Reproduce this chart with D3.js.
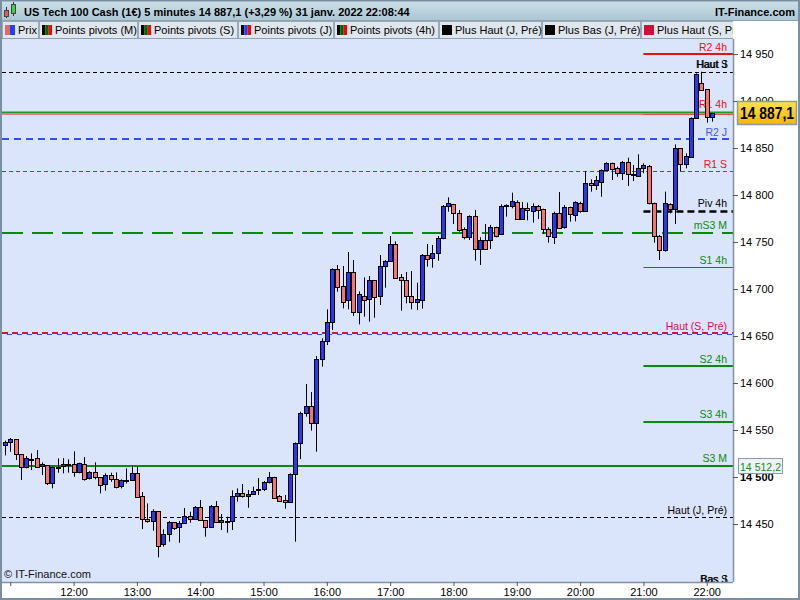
<!DOCTYPE html>
<html><head><meta charset="utf-8">
<script src="https://cdn.jsdelivr.net/npm/d3@7"></script>
<style>body{margin:0;background:#fff}svg{display:block;font-family:"Liberation Sans",Arial,sans-serif}</style>
</head><body><svg id="c" width="800" height="600"></svg>
<script>
// ---------- DATA ----------
const startTime = "10:55";
const candleMinutes = 5;
const open = [
14533.7,14537.2,14540.4,14524.1,14511.0,14519.1,14519.8,14512.0,14512.4,14493.2,
14510.2,14512.0,14513.4,14514.1,14504.9,14513.4,14498.5,14505.3,14499.6,14492.2,
14502.1,14498.2,14490.0,14495.7,14496.4,14504.2,14479.4,14454.9,14452.8,14463.4,
14428.3,14439.0,14451.7,14446.4,14450.7,14458.1,14454.9,14467.7,14453.9,14447.1,
14468.8,14452.4,14453.2,14452.8,14479.8,14482.9,14479.4,14481.9,14485.8,14486.8,
14494.6,14499.6,14480.1,14475.1,14473.4,14502.8,14535.8,14567.7,14575.5,14557.8,
14625.2,14644.3,14664.5,14720.9,14703.2,14687.9,14717.7,14675.2,14692.9,14689.0,
14709.2,14692.2,14724.5,14729.4,14747.9,14712.8,14709.2,14692.2,14686.2,14688.7,
14735.8,14732.6,14737.9,14753.9,14788.3,14790.5,14780.5,14763.5,14755.0,14777.3,
14742.9,14752.1,14752.1,14765.6,14758.2,14788.0,14788.3,14792.9,14774.9,14785.8,
14782.7,14788.0,14784.8,14764.2,14755.7,14780.9,14765.6,14786.9,14779.1,14791.9,
14783.4,14812.4,14810.3,14814.2,14826.3,14833.7,14828.4,14823.4,14834.8,14822.0,
14820.6,14828.4,14830.9,14791.2,14756.4,14741.2,14790.5,14785.5,14849.7,14832.6,
14840.8,14881.6,14919.5,14912.4,14882.6];
const high = [
14538.6,14541.5,14540.4,14524.1,14522.3,14525.1,14528.7,14515.6,14512.4,14511.0,
14519.8,14520.2,14518.8,14527.3,14515.2,14521.2,14506.3,14515.6,14499.6,14503.9,
14504.6,14504.9,14497.5,14509.2,14512.7,14511.0,14484.0,14471.9,14465.6,14463.4,
14444.3,14453.2,14451.7,14453.2,14467.0,14463.1,14469.1,14475.5,14454.2,14470.2,
14474.4,14460.6,14457.8,14485.8,14487.9,14492.5,14486.1,14489.7,14498.9,14495.7,
14505.3,14500.3,14480.8,14480.8,14503.9,14536.8,14569.5,14598.9,14590.4,14628.7,
14647.5,14678.4,14722.0,14725.5,14724.5,14739.4,14730.8,14697.5,14712.4,14713.8,
14709.6,14736.2,14730.8,14756.4,14750.7,14715.9,14718.1,14719.1,14706.7,14737.2,
14747.9,14746.8,14756.4,14789.4,14797.6,14790.5,14784.1,14765.6,14778.4,14784.1,
14755.0,14769.2,14768.1,14766.3,14790.1,14790.1,14802.5,14794.4,14792.6,14791.9,
14791.2,14789.4,14785.5,14765.6,14782.3,14803.2,14789.4,14787.6,14793.3,14792.9,
14825.6,14816.7,14820.2,14827.3,14834.8,14834.4,14830.2,14836.2,14839.7,14831.9,
14843.3,14833.7,14831.9,14791.9,14757.5,14803.6,14791.2,14853.9,14849.7,14844.3,
14882.6,14929.4,14931.2,14912.4,14887.1];
const low = [
14523.0,14526.9,14518.0,14496.8,14509.2,14507.4,14511.0,14502.1,14491.5,14487.9,
14504.6,14503.9,14504.6,14500.3,14503.9,14496.1,14497.5,14497.5,14482.6,14485.4,
14495.0,14487.9,14487.9,14493.2,14495.7,14478.3,14444.6,14451.4,14442.9,14414.5,
14425.9,14431.2,14443.6,14430.1,14450.0,14451.4,14454.2,14453.2,14436.5,14447.1,
14451.4,14443.6,14440.7,14443.6,14473.7,14478.0,14467.3,14480.8,14480.8,14485.1,
14493.2,14476.9,14473.7,14466.3,14472.3,14431.2,14519.1,14564.2,14549.3,14526.9,
14617.4,14640.4,14656.4,14697.2,14679.4,14678.4,14671.3,14662.4,14670.6,14665.3,
14669.5,14683.0,14701.4,14729.1,14711.0,14676.9,14684.7,14678.4,14677.7,14679.1,
14723.8,14722.7,14730.1,14752.9,14782.3,14769.2,14761.0,14752.9,14752.2,14730.2,
14725.6,14742.2,14742.6,14755.0,14757.5,14777.0,14785.8,14773.4,14773.4,14773.1,
14770.6,14774.5,14758.5,14749.3,14747.9,14764.2,14764.2,14771.7,14772.0,14781.2,
14782.7,14803.6,14805.3,14798.3,14825.9,14816.0,14819.5,14816.0,14809.6,14814.9,
14819.5,14823.1,14790.1,14749.3,14730.9,14739.8,14780.5,14769.2,14824.8,14828.4,
14839.7,14881.6,14911.7,14877.0,14878.1];
const close = [
14537.2,14540.4,14524.1,14511.0,14519.8,14518.0,14511.0,14513.4,14493.2,14510.6,
14511.0,14514.1,14513.2,14504.9,14514.9,14498.2,14505.6,14499.6,14491.8,14502.4,
14498.2,14489.7,14496.8,14496.8,14504.6,14479.0,14454.9,14452.8,14464.1,14426.9,
14439.0,14451.7,14446.1,14451.4,14458.5,14454.9,14468.0,14453.9,14447.1,14468.8,
14452.4,14453.9,14453.5,14479.4,14482.9,14479.4,14481.9,14485.4,14487.2,14494.6,
14500.0,14478.0,14474.8,14473.4,14503.2,14536.1,14568.4,14575.5,14557.8,14625.2,
14644.7,14664.9,14721.3,14702.5,14685.8,14717.7,14675.9,14694.3,14688.3,14709.6,
14691.8,14724.5,14729.8,14747.9,14712.1,14709.2,14692.2,14685.8,14689.4,14736.5,
14732.3,14738.3,14754.3,14788.3,14791.2,14780.5,14762.8,14755.0,14777.7,14742.9,
14751.8,14742.9,14766.0,14756.1,14788.3,14789.0,14793.3,14774.9,14786.2,14783.7,
14788.3,14784.4,14764.2,14756.4,14780.5,14765.3,14787.3,14779.5,14792.2,14783.4,
14812.8,14810.3,14816.0,14826.3,14834.1,14827.3,14823.8,14835.1,14822.0,14820.9,
14828.4,14831.9,14791.2,14756.1,14741.2,14791.9,14785.5,14850.4,14833.0,14841.5,
14882.3,14928.4,14911.7,14882.6,14887.1];

const hourLabels = ["11:00","12:00","13:00","14:00","15:00","16:00","17:00","18:00","19:00","20:00","21:00","22:00"];
const priceTicks = [14450,14500,14550,14600,14650,14700,14750,14800,14850,14900,14950];
const levelNames  = ["R2 4h","Haut J","Haut S","R1 4h","R2 J","R1 S","Piv 4h","mS3 M","S1 4h","Haut (S, Pré)","S2 4h","S3 4h","S3 M","Haut (J, Pré)","Bas J","Bas S"];
const levelValues = [14950.0,14931.2,14931.2,14886.4,14859.6,14825.3,14783.3,14760.0,14723.0,14653.0,14618.0,14558.8,14512.2,14457.0,14383.0,14383.0];
const lastPrice = 14887.1;
const s3mValue = 14512.2;
const titleText = "US Tech 100 Cash (1€) 5 minutes 14 887,1 (+3,29 %) 31 janv. 2022 22:08:44";
const brandText = "IT-Finance.com";
const legendLabels = ["Prix","Points pivots (M)","Points pivots (S)","Points pivots (J)","Points pivots (4h)","Plus Haut (J, Pré)","Plus Bas (J, Pré)","Plus Haut (S, Pré)"];

// ---------- HELPERS ----------
const fmtNum = (v, dec) => {
  const s = d3.format(",." + dec + "f")(v);
  return s.replace(/,/g, " ").replace(".", ",");
};
const [sh, sm] = startTime.split(":").map(Number);
const times = close.map((_, i) => {
  const m = sh * 60 + sm + i * candleMinutes;
  return d3.format("02")(Math.floor(m / 60)) + ":" + d3.format("02")(m % 60);
});

const svg = d3.select("#c");
const PL = 2, PR = 733, PT = 39, PB = 582;
const x = d3.scaleLinear().domain([0, close.length - 1]).range([5, 712]);
const y = d3.scaleLinear().domain([14388.3, 14966.0]).range([PB, PT]);

const defs = svg.append("defs");
defs.append("clipPath").attr("id", "plotClip").append("rect")
  .attr("x", PL).attr("y", PT).attr("width", PR - PL).attr("height", PB - PT);
defs.append("clipPath").attr("id", "legClip").append("rect")
  .attr("x", 0).attr("y", 0).attr("width", PR).attr("height", 40);
const g1 = defs.append("linearGradient").attr("id", "titleGrad").attr("x1", 0).attr("y1", 0).attr("x2", 0).attr("y2", 1);
g1.append("stop").attr("offset", 0).attr("stop-color", "#cfe1ea");
g1.append("stop").attr("offset", 1).attr("stop-color", "#a9c5d4");
const g2 = defs.append("linearGradient").attr("id", "yellowGrad").attr("x1", 0).attr("y1", 0).attr("x2", 0).attr("y2", 1);
g2.append("stop").attr("offset", 0).attr("stop-color", "#ffe14a");
g2.append("stop").attr("offset", 1).attr("stop-color", "#f2b800");

svg.append("rect").attr("width", 800).attr("height", 600).attr("fill", "#fff");
svg.append("rect").attr("x", PL).attr("y", PT).attr("width", PR - PL).attr("height", PB - PT).attr("fill", "#dae4fb");

// ---------- LEVEL LINES ----------
const levelStyle = {
  "R2 4h":        {c: "#e81010", w: 2,   dash: null,   full: false, tc: "#e81010"},
  "Haut J":       {c: "#000",    w: 1,   dash: "4,3",  full: true,  tc: "#000"},
  "Haut S":       {c: "#000",    w: 1,   dash: "4,3",  full: true,  tc: "#000", dx: 1},
  "R1 4h":        {c: "#e81010", w: 1,   dash: null,   full: false, tc: "#e81010", off: -2},
  "R2 J":         {c: "#3050f0", w: 2,   dash: "7,5",  full: true,  tc: "#3a5ae8"},
  "R1 S":         {c: "#e01818", w: 1,   dash: "4,3",  full: true,  tc: "#e81010"},
  "Piv 4h":       {c: "#000",    w: 2.5, dash: "7,4",  full: false, tc: "#000"},
  "mS3 M":        {c: "#0a8a0a", w: 2,   dash: "21,9", full: true,  tc: "#0a8a0a"},
  "S1 4h":        {c: "#0a8a0a", w: 1,   dash: null,   full: false, tc: "#0a8a0a"},
  "Haut (S, Pré)":{c: "#d0104a", w: 2,   dash: "6,4",  full: true,  tc: "#d0104a"},
  "S2 4h":        {c: "#0a8a0a", w: 2,   dash: null,   full: false, tc: "#0a8a0a"},
  "S3 4h":        {c: "#0a8a0a", w: 2,   dash: null,   full: false, tc: "#0a8a0a"},
  "S3 M":         {c: "#0a8a0a", w: 2,   dash: null,   full: true,  tc: "#0a8a0a"},
  "Haut (J, Pré)":{c: "#000",    w: 1,   dash: "4,3",  full: true,  tc: "#000"},
  "Bas J":        {c: "#000",    w: 1,   dash: "4,3",  full: true,  tc: "#000"},
  "Bas S":        {c: "#000",    w: 1,   dash: "4,3",  full: true,  tc: "#000", dx: 1}
};
const shortStart = x(times.indexOf("21:00"));
const levels = levelNames.map((n, i) => ({name: n, v: levelValues[i], s: levelStyle[n]}));
const plot = svg.append("g").attr("clip-path", "url(#plotClip)");

// blue companion dashes under the weekly high line
plot.append("line").attr("x1", PL).attr("x2", PR)
  .attr("y1", Math.round(y(levelValues[9])) + 1.5).attr("y2", Math.round(y(levelValues[9])) + 1.5)
  .attr("stroke", "#3050f0").attr("stroke-width", 1).attr("stroke-dasharray", "5,5").attr("stroke-dashoffset", 5);

plot.selectAll("line.lvl").data(levels).join("line").attr("class", "lvl")
  .attr("x1", d => d.s.full ? PL : shortStart).attr("x2", PR)
  .attr("y1", d => Math.round(y(d.v)) + (d.s.w % 2 ? 0.5 : 0))
  .attr("y2", d => Math.round(y(d.v)) + (d.s.w % 2 ? 0.5 : 0))
  .attr("stroke", d => d.s.c).attr("stroke-width", d => d.s.w)
  .attr("stroke-dasharray", d => d.s.dash);

// current-price lines
const py = y(lastPrice);
plot.append("line").attr("x1", PL).attr("x2", PR).attr("y1", py - 0.8).attr("y2", py - 0.8)
  .attr("stroke", "#1a9a2a").attr("stroke-width", 1.5);
plot.append("line").attr("x1", PL).attr("x2", PR).attr("y1", py + 0.8).attr("y2", py + 0.8)
  .attr("stroke", "#ea5a5a").attr("stroke-width", 1.5);

plot.selectAll("text.lvl").data(levels).join("text").attr("class", "lvl")
  .attr("x", d => 727 + (d.s.dx || 0)).attr("y", d => y(d.v) - 3.5 + (d.s.off || 0))
  .attr("text-anchor", "end").attr("font-size", 10.5)
  .attr("fill", d => d.s.tc).text(d => d.name);

// ---------- CANDLES ----------
const cData = close.map((c, i) => ({i, o: open[i], h: high[i], l: low[i], c}));
const cg = plot.append("g");
cg.selectAll("line.wick").data(cData).join("line").attr("class", "wick")
  .attr("x1", d => Math.round(x(d.i)) + 0.5).attr("x2", d => Math.round(x(d.i)) + 0.5)
  .attr("y1", d => y(d.h)).attr("y2", d => y(d.l))
  .attr("stroke", "#000").attr("stroke-width", 1);
cg.selectAll("rect.body").data(cData).join("rect").attr("class", "body")
  .attr("x", d => Math.round(x(d.i)) - 1.5)
  .attr("width", 4)
  .attr("y", d => Math.round(y(Math.max(d.o, d.c))) + 0.5)
  .attr("height", d => Math.max(1, Math.round(y(Math.min(d.o, d.c))) - Math.round(y(Math.max(d.o, d.c)))))
  .attr("fill", d => d.c >= d.o ? "#2838f0" : "#f87272")
  .attr("stroke", "#000").attr("stroke-width", 1);

// ---------- AXES ----------
const yAxis = d3.axisRight(y).tickValues(priceTicks).tickSize(5).tickFormat(v => fmtNum(v, 0));
const ya = svg.append("g").attr("transform", `translate(${PR},0)`).call(yAxis);
ya.select(".domain").attr("stroke", "#7f93a3").attr("stroke-width", 1.5)
  .attr("d", `M0.5,${PT}V${PB}`);
ya.selectAll(".tick line").attr("stroke", "#555");
ya.selectAll(".tick text").attr("font-size", 11).attr("fill", "#000").attr("x", 7)
  .attr("font-family", '"Liberation Sans",Arial,sans-serif')
  .attr("font-weight", d => d === 14500 ? "bold" : "normal");

const hourIdx = hourLabels.map(h => times.indexOf(h));
const xAxis = d3.axisBottom(x).tickValues(hourIdx).tickSize(4).tickFormat(i => times[i] === "11:00" ? "" : times[i]);
const xa = svg.append("g").attr("transform", `translate(0,${PB})`).call(xAxis);
xa.select(".domain").attr("d", `M0,0.5H${PR}`).attr("stroke", "#7f93a3").attr("stroke-width", 1.5);
xa.selectAll(".tick line").attr("stroke", "#555");
xa.selectAll(".tick text").attr("font-size", 11).attr("fill", "#000").attr("y", 6)
  .attr("font-family", '"Liberation Sans",Arial,sans-serif');

// copyright
svg.append("text").attr("x", 4).attr("y", 578).attr("font-size", 11).attr("fill", "#111").text("© IT-Finance.com");

// ---------- RIGHT LABELS ----------
svg.append("rect").attr("x", 737.5).attr("y", Math.round(py) - 11.5).attr("width", 59).attr("height", 23)
  .attr("fill", "url(#yellowGrad)").attr("stroke", "#8a9aa8").attr("stroke-width", 1.5);
svg.append("text").attr("x", 767).attr("y", Math.round(py) + 6).attr("text-anchor", "middle")
  .attr("font-size", 16).attr("font-weight", "bold").attr("textLength", 54).attr("lengthAdjust", "spacingAndGlyphs")
  .text(fmtNum(lastPrice, 1));
const sy = y(s3mValue);
svg.append("rect").attr("x", 738.5).attr("y", Math.round(sy) - 7.5).attr("width", 44).attr("height", 15)
  .attr("fill", "#eef2f8").attr("stroke", "#8a9aa8").attr("stroke-width", 1);
svg.append("text").attr("x", 760.5).attr("y", Math.round(sy) + 4.5).attr("text-anchor", "middle")
  .attr("font-size", 11).attr("fill", "#1a8a1a").attr("textLength", 41).attr("lengthAdjust", "spacingAndGlyphs")
  .text(fmtNum(s3mValue, 1));

// ---------- HEADER ----------
svg.append("rect").attr("x", 0).attr("y", 0).attr("width", 800).attr("height", 21).attr("fill", "url(#titleGrad)");
svg.append("line").attr("x1", 0).attr("x2", 800).attr("y1", 20.5).attr("y2", 20.5).attr("stroke", "#8aa2b2");
// small candle icon
const ic = svg.append("g");
ic.append("line").attr("x1", 6.5).attr("x2", 6.5).attr("y1", 7).attr("y2", 18).attr("stroke", "#333");
ic.append("rect").attr("x", 4.5).attr("y", 10.5).attr("width", 4).attr("height", 6).attr("fill", "#e85a5a").attr("stroke", "#444");
ic.append("line").attr("x1", 13.5).attr("x2", 13.5).attr("y1", 2).attr("y2", 16).attr("stroke", "#333");
ic.append("rect").attr("x", 11.5).attr("y", 4.5).attr("width", 4).attr("height", 9).attr("fill", "#3ad43a").attr("stroke", "#444");
svg.append("text").attr("x", 24).attr("y", 15.5).attr("font-size", 11).attr("font-weight", "bold").attr("fill", "#000").text(titleText);
svg.append("text").attr("x", 795).attr("y", 15.5).attr("text-anchor", "end").attr("font-size", 11).attr("font-weight", "bold").attr("fill", "#000").text(brandText);

// legend tabs
svg.append("rect").attr("x", 0).attr("y", 21).attr("width", 800).attr("height", 18).attr("fill", "#fff");
const tabEdges = [2, 39, 138, 238, 334, 439, 542, 641, 740];
const iconStripes = [
  ["#e06a6a", "#2040ff"],
  ["#000", "#006400", "#ff0000"],
  ["#000", "#006400", "#ff0000"],
  ["#000", "#2040ff", "#ff0000"],
  ["#000", "#006400", "#ff0000"],
  ["#000"], ["#000"], ["#d0103a"]
];
const leg = svg.append("g").attr("clip-path", "url(#legClip)");
legendLabels.forEach((lab, k) => {
  const x0 = tabEdges[k], x1 = tabEdges[k + 1] - 1;
  leg.append("rect").attr("x", x0 + 0.5).attr("y", 21.5).attr("width", x1 - x0).attr("height", 17)
    .attr("fill", "#dfe6ec").attr("stroke", "#9aaab6");
  const st = iconStripes[k];
  const iw = 10, sw = iw / st.length;
  st.forEach((c, j) => leg.append("rect").attr("x", x0 + 3 + j * sw).attr("y", 25).attr("width", sw).attr("height", 10).attr("fill", c));
  leg.append("text").attr("x", x0 + 16).attr("y", 34).attr("font-size", 11).attr("fill", "#000").text(lab);
});
svg.append("line").attr("x1", 0).attr("x2", PR).attr("y1", 38.5).attr("y2", 38.5).attr("stroke", "#8aa2b2");

// frame
svg.append("rect").attr("x", 1).attr("y", 0.5).attr("width", 798).attr("height", 598.5)
  .attr("fill", "none").attr("stroke", "#7a90a2").attr("stroke-width", 2);
</script></body></html>
